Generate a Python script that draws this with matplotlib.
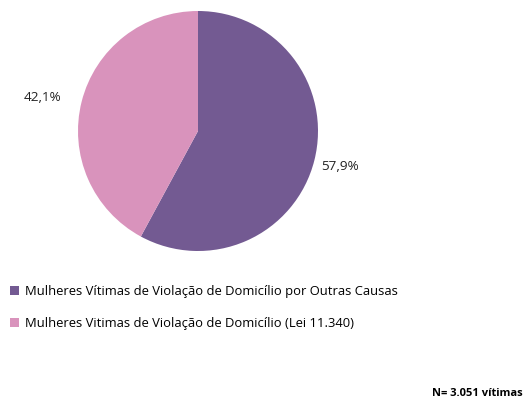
import matplotlib
matplotlib.use("Agg")
import matplotlib.pyplot as plt
import numpy as np

categories = ["Mulheres Vítimas de Violação de Domicílio por Outras Causas",
              "Mulheres Vitimas de Violação de Domicílio (Lei 11.340)"]
values = [57.9, 42.1]
pct_labels = ["57,9%", "42,1%"]
colors = ["#735A92", "#D993BC"]
note = "N= 3.051 vítimas"

plt.rcParams['font.family'] = ['Open Sans', 'DejaVu Sans']

fig = plt.figure(figsize=(5.24, 3.98), dpi=100)
ax = fig.add_axes([78/524, (398-251)/398, 240/524, 240/398])
wedges, texts = ax.pie(values, colors=colors, startangle=90, counterclock=False,
                       labels=pct_labels, labeldistance=1.25,
                       textprops=dict(fontsize=9.7, color="#222222"),
                       wedgeprops=dict(linewidth=0))
dists = [1.22, 1.33]
ang_off = [0.0, 2.0]
for w, t, d, o in zip(wedges, texts, dists, ang_off):
    ang = np.deg2rad((w.theta1 + w.theta2) / 2 + o)
    t.set_position((d * np.cos(ang), d * np.sin(ang)))
    t.set_ha("center"); t.set_va("center")
ax.set_xlim(-1, 1); ax.set_ylim(-1, 1)
ax.set_aspect("equal")

leg = fig.legend(wedges, categories, loc="upper left",
                 bbox_to_anchor=(5/524, 1 - 280/398), frameon=False,
                 fontsize=9.4, handlelength=0.65, handleheight=0.65,
                 handletextpad=0.5, labelspacing=1.45, borderaxespad=0)
fig.text(432/524, 1 - 394/398, note, fontsize=8, fontweight="bold", ha="left", va="center")
fig.savefig("out.png", dpi=100)
